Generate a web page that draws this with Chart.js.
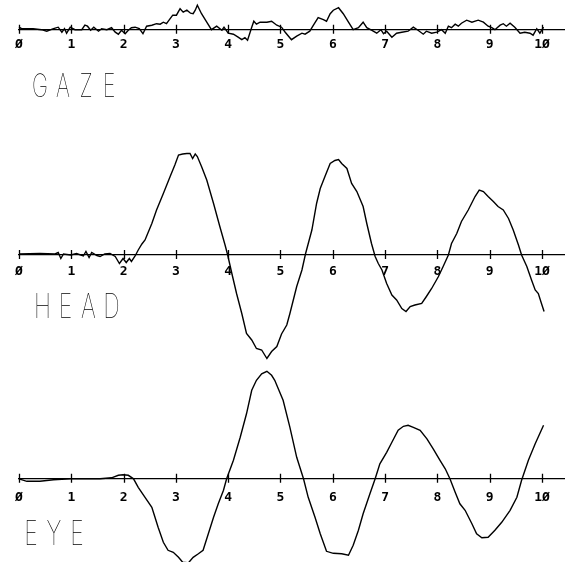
<!DOCTYPE html>
<html>
<head>
<meta charset="utf-8">
<script src="https://cdn.jsdelivr.net/npm/chart.js@4.4.1/dist/chart.umd.min.js"></script>
<style>
	html, body { margin: 0; padding: 0; background: #fff; }
	body { width: 565px; height: 562px; position: relative; overflow: hidden; }
	canvas { position: absolute; left: 0; }
</style>
</head>
<body>
<canvas id="gazeChart" width="565" height="130" style="top:0px"></canvas>
<canvas id="headChart" width="565" height="232" style="top:130px"></canvas>
<canvas id="eyeChart" width="565" height="200" style="top:362px"></canvas>
<script>
// time axis ticks (s)
const tickValues = [0, 1, 2, 3, 4, 5, 6, 7, 8, 9, 10];

// gaze position
const gazeTime = [
	0.00, 0.05, 0.27, 0.43, 0.53, 0.66, 0.75, 0.82, 0.87, 0.91,
	0.98, 1.07, 1.20, 1.26, 1.31, 1.37, 1.43, 1.52, 1.58, 1.68,
	1.77, 1.84, 1.90, 1.96, 2.03, 2.09, 2.15, 2.22, 2.30, 2.37,
	2.44, 2.54, 2.63, 2.70, 2.76, 2.82, 2.89, 2.94, 3.01, 3.08,
	3.14, 3.21, 3.28, 3.33, 3.37, 3.41, 3.49, 3.59, 3.68, 3.78,
	3.88, 3.92, 4.00, 4.10, 4.19, 4.26, 4.32, 4.37, 4.45, 4.49,
	4.54, 4.61, 4.74, 4.83, 4.93, 5.02, 5.09, 5.21, 5.31, 5.41,
	5.47, 5.56, 5.63, 5.72, 5.82, 5.88, 5.95, 6.01, 6.11, 6.20,
	6.30, 6.39, 6.49, 6.58, 6.65, 6.74, 6.84, 6.92, 6.97, 7.03,
	7.13, 7.22, 7.32, 7.44, 7.54, 7.63, 7.73, 7.79, 7.89, 7.99,
	8.08, 8.15, 8.21, 8.27, 8.34, 8.40, 8.46, 8.56, 8.66, 8.78,
	8.88, 8.97, 9.04, 9.10, 9.20, 9.26, 9.32, 9.39, 9.48, 9.58,
	9.67, 9.77, 9.83, 9.90, 9.96, 10.03
];
const gazeValue = [
	0.5, 0.2, 0.2, 0, -0.3, 0.2, 0.5, -0.5, 0.2, -0.7,
	0.5, 0, 0, 0.9, 0.7, -0.1, 0.5, -0.3, 0.2, 0,
	0.4, -0.5, -0.9, -0.1, -0.8, -0.1, 0.4, 0.5, 0.2, -0.8,
	0.7, 0.9, 1.2, 1.1, 1.5, 1.2, 2.2, 2.9, 2.9, 4.2,
	3.5, 3.9, 3.3, 3.2, 3.9, 4.9, 3.2, 1.5, 0, 0.7,
	-0.1, 0.5, -0.7, -0.9, -1.5, -2.0, -1.6, -2.1, 0.5, 1.7,
	1.1, 1.5, 1.5, 1.7, 0.9, 0.5, -0.5, -2.0, -1.3, -0.7,
	-0.9, -0.3, 0.9, 2.4, 2.0, 1.7, 3.2, 3.9, 4.4, 3.2,
	1.5, 0, 0.4, 1.5, 0.4, -0.1, -0.7, 0, -0.8, -0.3,
	-1.5, -0.7, -0.5, -0.3, 0.5, -0.1, -0.9, -0.3, -0.7, -0.5,
	0, -0.7, 0.7, 0.4, 1.1, 0.7, 1.3, 1.9, 1.5, 1.9,
	1.5, 0.7, 0.4, 0, 0.9, 1.2, 0.7, 1.3, 0.5, -0.7,
	-0.5, -0.7, -1.1, 0.2, -0.7, 0.5
];

// head position
const headTime = [
	0.00, 0.40, 0.69, 0.75, 0.80, 0.85, 0.99, 1.10, 1.23, 1.28,
	1.34, 1.39, 1.49, 1.55, 1.64, 1.74, 1.84, 1.92, 1.99, 2.05,
	2.11, 2.15, 2.22, 2.28, 2.35, 2.41, 2.54, 2.63, 2.76, 2.89,
	2.98, 3.05, 3.13, 3.21, 3.27, 3.32, 3.37, 3.41, 3.49, 3.59,
	3.72, 3.84, 3.94, 3.99, 4.07, 4.16, 4.26, 4.35, 4.45, 4.54,
	4.64, 4.74, 4.83, 4.93, 5.02, 5.12, 5.18, 5.31, 5.41, 5.48,
	5.60, 5.69, 5.76, 5.85, 5.95, 6.04, 6.11, 6.17, 6.27, 6.36,
	6.46, 6.58, 6.65, 6.74, 6.81, 6.87, 6.94, 7.03, 7.13, 7.22,
	7.32, 7.40, 7.48, 7.57, 7.70, 7.79, 7.89, 8.02, 8.11, 8.21,
	8.27, 8.37, 8.46, 8.59, 8.72, 8.80, 8.88, 8.97, 9.07, 9.16,
	9.26, 9.36, 9.45, 9.55, 9.61, 9.71, 9.80, 9.87, 9.93, 9.99,
	10.04
];
const headValue = [
	0.2, 0.3, 0.2, 0.5, -0.7, 0.2, 0, 0.3, -0.2, 0.7,
	-0.5, 0.5, -0.1, -0.3, 0.2, 0.3, -0.3, -1.7, -0.7, -1.5,
	-0.7, -1.3, -0.2, 1.0, 2.2, 3.0, 6.3, 9.0, 12.3, 15.7,
	18.0, 20.0, 20.2, 20.3, 20.3, 19.3, 20.2, 19.7, 17.7, 15.0,
	10.3, 5.7, 2.0, 0, -3.7, -7.7, -11.7, -15.7, -17.0, -18.7,
	-19.0, -20.7, -19.3, -18.3, -15.8, -14.0, -11.7, -6.3, -3.0, 0.3,
	5.0, 10.3, 13.3, 15.7, 18.3, 18.9, 19.1, 18.3, 17.3, 14.3,
	12.7, 9.7, 6.3, 2.3, -0.3, -1.7, -3.0, -5.7, -8.0, -9.0,
	-10.7, -11.3, -10.3, -10.0, -9.7, -8.3, -6.7, -4.3, -2.3, 0,
	2.3, 4.3, 6.7, 9.0, 11.7, 13.0, 12.7, 11.7, 10.7, 9.7,
	9.0, 7.3, 5.0, 2.0, 0, -2.3, -5.0, -7.0, -7.7, -9.7,
	-11.3
];

// eye-in-head position
const eyeTime = [
	0.00, 0.15, 0.40, 0.66, 0.98, 1.29, 1.55, 1.77, 1.90, 1.99,
	2.09, 2.19, 2.28, 2.41, 2.54, 2.60, 2.66, 2.76, 2.85, 2.95,
	3.05, 3.13, 3.24, 3.33, 3.43, 3.52, 3.62, 3.72, 3.81, 3.91,
	3.97, 4.10, 4.23, 4.35, 4.45, 4.54, 4.64, 4.74, 4.83, 4.89,
	5.05, 5.18, 5.31, 5.44, 5.53, 5.66, 5.76, 5.88, 6.01, 6.17,
	6.30, 6.39, 6.49, 6.58, 6.71, 6.81, 6.90, 7.03, 7.13, 7.25,
	7.35, 7.44, 7.54, 7.67, 7.80, 7.92, 8.05, 8.15, 8.24, 8.34,
	8.43, 8.53, 8.66, 8.75, 8.85, 8.97, 9.10, 9.23, 9.39, 9.52,
	9.61, 9.74, 9.87, 10.03
];
const eyeValue = [
	0, -0.5, -0.5, -0.2, 0, 0, 0, 0.2, 0.7, 0.8,
	0.7, 0, -1.7, -3.7, -5.7, -7.7, -9.7, -12.7, -14.3, -14.7,
	-15.7, -16.7, -16.8, -15.7, -15.0, -14.3, -11.0, -7.7, -5.0, -2.3,
	0, 3.7, 8.3, 13.0, 17.7, 19.7, 21.0, 21.5, 20.7, 19.7,
	15.7, 10.3, 4.3, 0, -3.7, -7.7, -11.0, -14.5, -14.9, -15.0,
	-15.3, -13.3, -10.3, -7.0, -3.0, 0, 3.0, 5.3, 7.3, 9.7,
	10.5, 10.7, 10.3, 9.7, 8.0, 6.0, 3.7, 2.0, 0, -2.7,
	-5.0, -6.3, -9.0, -11.0, -11.8, -11.7, -10.3, -8.7, -6.3, -3.7,
	-0.3, 3.7, 7.0, 10.7
];

Chart.defaults.font.family = "'DejaVu Sans Mono', monospace";
Chart.defaults.color = '#000';

// tick marks that cross the time axis
const crossTicks = {
	id: 'crossTicks',
	afterDatasetsDraw(chart) {
		const xs = chart.scales.x;
		const y0 = chart.scales.y.getPixelForValue(0);
		const ctx = chart.ctx;
		ctx.save();
		ctx.strokeStyle = '#000';
		ctx.lineWidth = 1.3;
		ctx.beginPath();
		xs.ticks.forEach(t => {
			const px = Math.round(xs.getPixelForValue(t.value)) + 0.5;
			ctx.moveTo(px, y0 - 5);
			ctx.lineTo(px, y0 + 4);
		});
		ctx.stroke();
		ctx.restore();
	}
};

// trace name in narrow, evenly spaced capitals under the axis
const traceName = {
	id: 'traceName',
	afterDraw(chart, args, opts) {
		const ctx = chart.ctx;
		ctx.save();
		ctx.fillStyle = '#000';
		ctx.font = '100 ' + opts.size + 'px Inter, "DejaVu Sans", sans-serif';
		ctx.textAlign = 'center';
		ctx.textBaseline = 'alphabetic';
		[...opts.text].forEach((ch, i) => {
			ctx.save();
			ctx.translate(opts.x + i * 23, opts.baseline);
			ctx.scale(0.68, 1);
			ctx.fillText(ch, 0, 0);
			ctx.restore();
		});
		ctx.restore();
	}
};

// plotter style slashed zero
const plotterDigits = v => String(v).replace(/0/g, '\u00D8');

// 5 px per unit on every panel; the axis sits at axisY px from the canvas top
function traceChart(id, times, values, axisY, labelPad, name) {
	const canvas = document.getElementById(id);
	const yMax = axisY / 5;
	const yMin = yMax - canvas.height / 5;
	return new Chart(canvas, {
		type: 'line',
		data: {
			datasets: [{
				data: times.map((t, i) => ({ x: t, y: values[i] })),
				borderColor: '#000',
				borderWidth: 1.4,
				pointRadius: 0,
				tension: 0,
				clip: false
			}]
		},
		options: {
			responsive: false,
			animation: false,
			layout: { padding: { left: 19, right: 0, top: 0, bottom: 0 } },
			plugins: {
				legend: { display: false },
				tooltip: { enabled: false },
				traceName: name
			},
			scales: {
				x: {
					type: 'linear',
					position: { y: 0 },
					min: 0,
					max: 10.44,
					afterBuildTicks: scale => { scale.ticks = tickValues.map(v => ({ value: v })); },
					grid: { display: false, drawTicks: false },
					border: { display: true, color: '#000', width: 1.2 },
					ticks: {
						padding: labelPad,
						maxRotation: 0,
						autoSkip: false,
						font: { size: 13, weight: 'bold' },
						color: '#000',
						callback: plotterDigits
					}
				},
				y: { display: false, min: yMin, max: yMax }
			}
		},
		plugins: [crossTicks, traceName]
	});
}

traceChart('gazeChart', gazeTime, gazeValue, 29.7, 7, { text: 'GAZE', x: 40, baseline: 97, size: 32 });
traceChart('headChart', headTime, headValue, 125, 9, { text: 'HEAD', x: 42.5, baseline: 188, size: 34 });
traceChart('eyeChart', eyeTime, eyeValue, 116.8, 11, { text: 'EYE', x: 31, baseline: 183, size: 34 });
</script>
</body>
</html>
